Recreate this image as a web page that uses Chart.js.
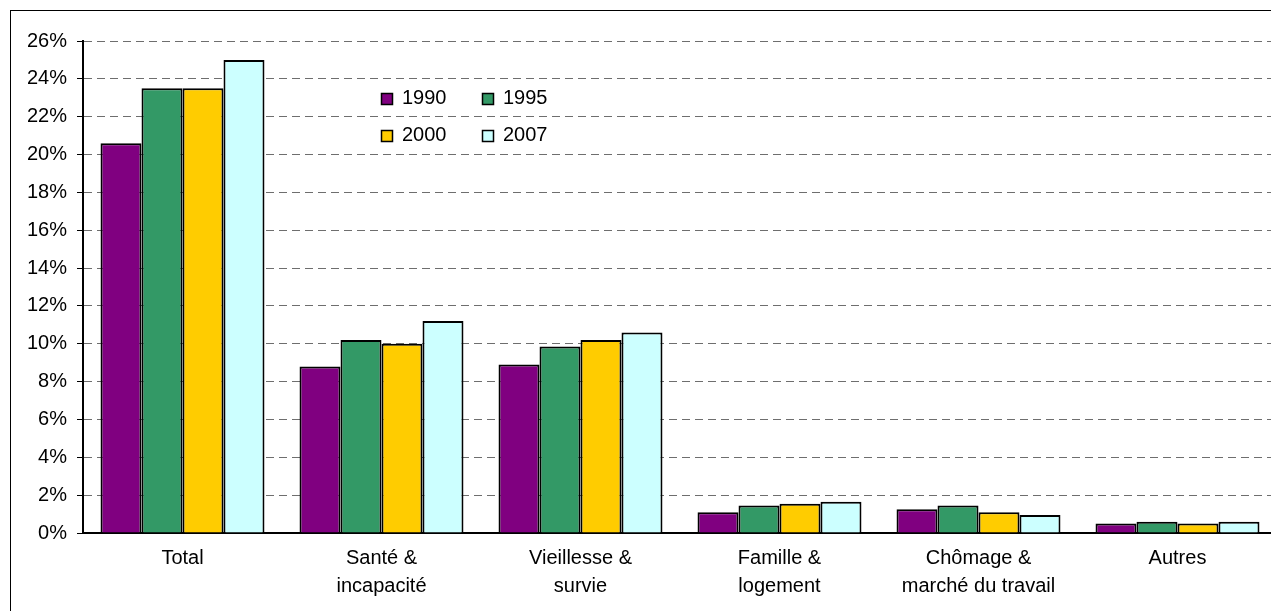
<!DOCTYPE html>
<html>
<head>
<meta charset="utf-8">
<script src="https://cdn.jsdelivr.net/npm/chart.js@4/dist/chart.umd.min.js"></script>
<style>
html,body{margin:0;padding:0;background:#fff;overflow:hidden;width:1271px;height:611px;}
#wrap{position:absolute;left:0;top:0;width:1290px;height:611px;}
</style>
</head>
<body>
<div id="wrap"><canvas id="c" width="1290" height="611"></canvas></div>
<script>
const categories = ['Total', ['Santé &', 'incapacité'], ['Vieillesse &', 'survie'], ['Famille &', 'logement'], ['Chômage &', 'marché du travail'], 'Autres'];
const seriesNames = ['1990', '1995', '2000', '2007'];
const values1990 = [20.6, 8.8, 8.9, 1.1, 1.25, 0.5];
const values1995 = [23.5, 10.2, 9.85, 1.45, 1.45, 0.6];
const values2000 = [23.5, 10.0, 10.2, 1.55, 1.1, 0.5];
const values2007 = [25.0, 11.2, 10.6, 1.65, 0.95, 0.6];
const yTicks = [0, 2, 4, 6, 8, 10, 12, 14, 16, 18, 20, 22, 24, 26];

const colors = ['#800080', '#339966', '#FFCC00', '#CCFFFF'];
const FONT = '"Liberation Sans", Arial, sans-serif';

const frame = {
  id: 'frame',
  beforeDraw(chart) {
    const ctx = chart.ctx;
    ctx.save();
    ctx.fillStyle = '#fff';
    ctx.fillRect(0, 0, chart.width, chart.height);
    ctx.strokeStyle = '#000';
    ctx.lineWidth = 1;
    ctx.strokeRect(10.5, 10.5, 3000, 3000);
    ctx.restore();
  }
};

const customLegend = {
  id: 'customLegend',
  afterDraw(chart) {
    const ctx = chart.ctx;
    ctx.save();
    ctx.font = '20px ' + FONT;
    ctx.textBaseline = 'alphabetic';
    ctx.textAlign = 'left';
    chart.data.datasets.forEach((ds, i) => {
      const col = i % 2, row = Math.floor(i / 2);
      const x = 381 + col * 101, y = 104 + row * 37;
      ctx.fillStyle = ds.backgroundColor;
      ctx.fillRect(x + 0.5, y - 10.5, 11, 11);
      ctx.strokeStyle = '#000';
      ctx.lineWidth = 1.5;
      ctx.strokeRect(x + 0.5, y - 10.5, 11, 11);
      ctx.fillStyle = '#000';
      ctx.fillText(ds.label, x + 21, y);
    });
    ctx.restore();
  }
};

const allValues = [values1990, values1995, values2000, values2007];

new Chart(document.getElementById('c'), {
  type: 'bar',
  data: {
    labels: categories,
    datasets: seriesNames.map((n, i) => ({
      label: n,
      data: allValues[i],
      backgroundColor: colors[i],
      borderColor: '#000',
      borderWidth: 2,
      borderSkipped: 'bottom',
      categoryPercentage: 0.824,
      barPercentage: 1.0
    }))
  },
  options: {
    responsive: false,
    animation: false,
    events: [],
    layout: { padding: { top: 41, right: 13, bottom: 0, left: 0 } },
    plugins: { legend: { display: false }, tooltip: { enabled: false } },
    scales: {
      x: {
        grid: { display: false, drawTicks: false },
        border: { display: true, color: '#000', width: 2 },
        ticks: {
          color: '#000',
          font: { family: FONT, size: 20, lineHeight: 1.4 },
          padding: 11,
          maxRotation: 0,
          autoSkip: false
        },
        afterFit(scale) { scale.height = 78; }
      },
      y: {
        min: 0,
        max: 26,
        afterBuildTicks(scale) { scale.ticks = yTicks.map(v => ({ value: v })); },
        grid: {
          color: '#6e6e6e',
          lineWidth: 1,
          tickColor: '#000',
          tickLength: 6,
          tickBorderDash: [],
          drawTicks: true
        },
        border: { display: true, color: '#000', width: 2, dash: [8, 5] },
        ticks: {
          color: '#000',
          font: { family: FONT, size: 20 },
          padding: 10,
          autoSkip: false,
          callback: v => v + '%'
        },
        afterFit(scale) { scale.width = 83; }
      }
    }
  },
  plugins: [frame, customLegend]
});
</script>
</body>
</html>
